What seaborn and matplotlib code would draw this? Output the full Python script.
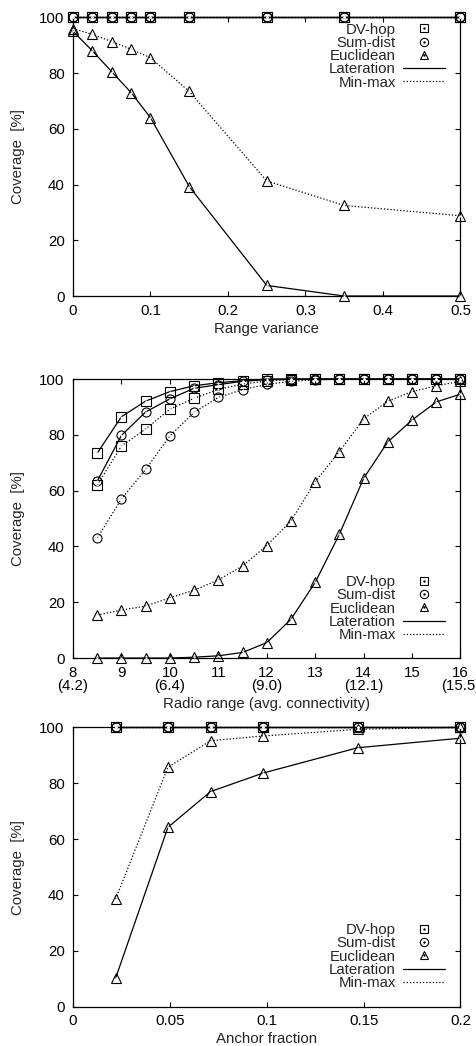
import numpy as np
import pandas as pd
import matplotlib
matplotlib.use("Agg")
import matplotlib.pyplot as plt
import seaborn as sns
from matplotlib.lines import Line2D
from matplotlib.legend_handler import HandlerTuple

sns.set_style("ticks")
plt.rcParams['font.family'] = ['Liberation Sans', 'DejaVu Sans']
FS = 10.8

# ---------------- Data ----------------
# Panel 1: range variance
var_x = [0, 0.025, 0.05, 0.075, 0.1, 0.15, 0.25, 0.35, 0.5]
var_dvhop_lat = [100, 100, 100, 100, 100, 100, 100, 100, 100]
var_dvhop_mm = [100, 100, 100, 100, 100, 100, 100, 100, 100]
var_sumdist_lat = [100, 100, 100, 100, 100, 100, 100, 100, 100]
var_sumdist_mm = [100, 100, 100, 100, 100, 100, 100, 100, 100]
var_eucl_lat = [95, 88, 80.5, 73, 64, 39.3, 3.8, 0, 0]
var_eucl_mm = [96, 93.9, 91.3, 88.6, 85.5, 73.4, 41.3, 32.5, 28.8]

# Panel 2: radio range
rr_x = [8.5, 9, 9.5, 10, 10.5, 11, 11.5, 12, 12.5, 13, 13.5, 14, 14.5, 15, 15.5, 16]
rr_dvhop_lat = [73.4, 86.5, 92.1, 95.5, 97.6, 98.7, 99.4, 100, 100, 100, 100, 100, 100, 100, 100, 100]
rr_dvhop_mm = [62, 76, 82.1, 89.2, 93.1, 96.3, 98.2, 99.3, 99.8, 100, 100, 100, 100, 100, 100, 100]
rr_sumdist_lat = [63.4, 79.8, 88.2, 92.9, 96.7, 98, 99.2, 99.8, 100, 100, 100, 100, 100, 100, 100, 100]
rr_sumdist_mm = [43, 57, 67.6, 79.6, 88.1, 93.4, 96.2, 98.1, 99.2, 99.7, 100, 100, 100, 100, 100, 100]
rr_eucl_lat = [0, 0, 0, 0, 0.3, 0.8, 2.0, 5.5, 13.9, 27.1, 44.4, 64.4, 77.5, 85.3, 91.8, 94.6]
rr_eucl_mm = [15.4, 17.2, 18.6, 21.6, 24.3, 28, 33, 40.3, 49.1, 63.2, 74, 85.7, 92.1, 95.5, 97.6, 99.2]
rr_ticks = [8, 9, 10, 11, 12, 13, 14, 15, 16]
rr_ticklabels = ["8\n(4.2)", "9", "10\n(6.4)", "11", "12\n(9.0)", "13", "14\n(12.1)", "15", "16\n(15.5)"]

# Panel 3: anchor fraction
af_x = [0.022, 0.049, 0.071, 0.098, 0.147, 0.2]
af_dvhop_lat = [100, 100, 100, 100, 100, 100]
af_dvhop_mm = [100, 100, 100, 100, 100, 100]
af_sumdist_lat = [100, 100, 100, 100, 100, 100]
af_sumdist_mm = [100, 100, 100, 100, 100, 100]
af_eucl_lat = [10.2, 64.2, 77, 83.6, 92.7, 96.1]
af_eucl_mm = [38.5, 85.7, 95.2, 96.9, 99.3, 100]

methods = ["DV-hop", "Sum-dist", "Euclidean"]
markers = {"DV-hop": "s", "Sum-dist": "o", "Euclidean": "^"}
msizes = {"DV-hop": 6.5, "Sum-dist": 6.5, "Euclidean": 6.8}
DOT = (0, (1, 1.6))
styles = {"Lateration": "-", "Min-max": DOT}

panels = [
    dict(x=var_x, data={("DV-hop", "Lateration"): var_dvhop_lat, ("DV-hop", "Min-max"): var_dvhop_mm,
                        ("Sum-dist", "Lateration"): var_sumdist_lat, ("Sum-dist", "Min-max"): var_sumdist_mm,
                        ("Euclidean", "Lateration"): var_eucl_lat, ("Euclidean", "Min-max"): var_eucl_mm},
         xlim=(0, 0.5), xticks=[0, 0.1, 0.2, 0.3, 0.4, 0.5], xticklabels=["0", "0.1", "0.2", "0.3", "0.4", "0.5"],
         xlabel="Range variance", rect=[0.153, 0.7170, 0.8124, 0.2664], leg=(0.961, 0.981)),
    dict(x=rr_x, data={("DV-hop", "Lateration"): rr_dvhop_lat, ("DV-hop", "Min-max"): rr_dvhop_mm,
                       ("Sum-dist", "Lateration"): rr_sumdist_lat, ("Sum-dist", "Min-max"): rr_sumdist_mm,
                       ("Euclidean", "Lateration"): rr_eucl_lat, ("Euclidean", "Min-max"): rr_eucl_mm},
         xlim=(8, 16), xticks=rr_ticks, xticklabels=rr_ticklabels,
         xlabel="Radio range (avg. connectivity)", rect=[0.153, 0.3709, 0.8124, 0.2667], leg=(0.961, 0.297)),
    dict(x=af_x, data={("DV-hop", "Lateration"): af_dvhop_lat, ("DV-hop", "Min-max"): af_dvhop_mm,
                       ("Sum-dist", "Lateration"): af_sumdist_lat, ("Sum-dist", "Min-max"): af_sumdist_mm,
                       ("Euclidean", "Lateration"): af_eucl_lat, ("Euclidean", "Min-max"): af_eucl_mm},
         xlim=(0, 0.2), xticks=[0, 0.05, 0.1, 0.15, 0.2], xticklabels=["0", "0.05", "0.1", "0.15", "0.2"],
         xlabel="Anchor fraction", rect=[0.153, 0.03757, 0.8124, 0.2671], leg=(0.961, 0.299)),
]

fig = plt.figure(figsize=(4.77, 10.46), dpi=100)

for p in panels:
    ax = fig.add_axes(p["rect"])
    for (m, s), vals in p["data"].items():
        df = pd.DataFrame({"x": p["x"], "y": vals})
        sns.lineplot(data=df, x="x", y="y", ax=ax, color="black", linewidth=0.9,
                     linestyle=styles[s], marker=markers[m], markersize=msizes[m],
                     markerfacecolor="none", markeredgecolor="black", markeredgewidth=0.8,
                     clip_on=False, legend=False, zorder=3)
        sns.lineplot(data=df, x="x", y="y", ax=ax, color="black", linewidth=0,
                     marker=".", markersize=1.5, clip_on=False, legend=False, zorder=4)
    ax.set_xlim(*p["xlim"])
    ax.set_ylim(0, 100)
    ax.set_xticks(p["xticks"])
    ax.set_xticklabels(p["xticklabels"], linespacing=0.95)
    ax.set_yticks([0, 20, 40, 60, 80, 100])
    ax.tick_params(direction="in", length=3.5, width=0.8, top=True, right=True,
                   labelsize=FS, colors="black", pad=5.5)
    ax.tick_params(axis="y", pad=6)
    for sp in ax.spines.values():
        sp.set_visible(True)
        sp.set_linewidth(0.9)
        sp.set_color("black")
    ax.set_xlabel(p["xlabel"], fontsize=FS, labelpad=2.9)
    ax.set_ylabel("Coverage  [%]", fontsize=FS)
    ax.yaxis.set_label_coords(-0.124, 0.5)

    handles = []
    for m in methods:
        h1 = Line2D([], [], linestyle="none", marker=markers[m], markersize=msizes[m] - 0.5,
                    markerfacecolor="none", markeredgecolor="black", markeredgewidth=0.8)
        h2 = Line2D([], [], linestyle="none", marker=".", markersize=1.5, color="black")
        handles.append((h1, h2))
    handles.append(Line2D([], [], color="black", linewidth=0.9, linestyle="-"))
    handles.append(Line2D([], [], color="black", linewidth=0.9, linestyle=DOT))
    labels = methods + ["Lateration", "Min-max"]
    ax.legend(handles, labels, loc="upper right", bbox_to_anchor=p["leg"], frameon=False,
              markerfirst=False, handlelength=2.8, handletextpad=0.5, labelspacing=-0.05,
              borderpad=0, borderaxespad=0, fontsize=FS,
              handler_map={tuple: HandlerTuple(ndivide=1, pad=0)})

fig.savefig("out.png", dpi=100)
